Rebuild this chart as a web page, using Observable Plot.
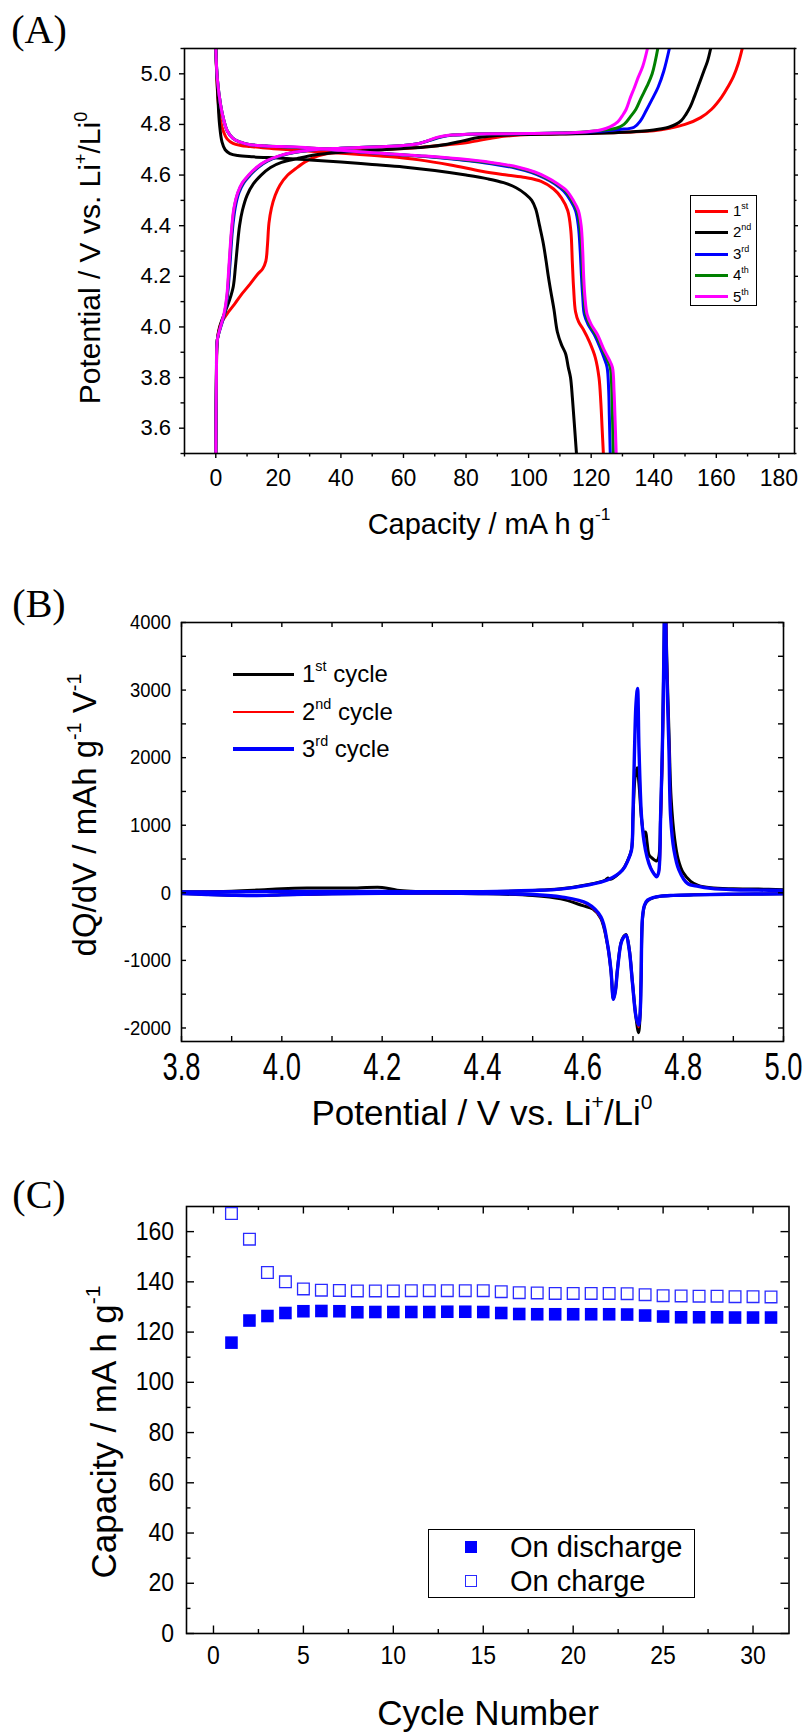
<!DOCTYPE html>
<html><head><meta charset="utf-8">
<script src="https://cdn.jsdelivr.net/npm/d3@7"></script>
<script src="https://cdn.jsdelivr.net/npm/@observablehq/plot@0.6"></script>
<style>
html,body{margin:0;padding:0;background:#fff;}
#page{position:relative;width:803px;height:1733px;overflow:hidden;font-family:"Liberation Sans",Arial,Helvetica,sans-serif;color:#000;}
.panel{position:absolute;left:0;}
.lbl{position:absolute;white-space:nowrap;line-height:1;}
.ctr{transform:translate(-50%,-50%);}
.rot{transform:translate(-50%,-50%) rotate(-90deg);}
.plabel{font-family:"Liberation Serif","Times New Roman",serif;font-size:40px;}
sup{font-size:0.6em;line-height:0;vertical-align:0.75em;}
.leg{position:absolute;box-sizing:border-box;border:1px solid #000;background:#fff;}
.swl{position:absolute;}
</style></head><body><div id="page"></div>
<script>
// ---------------- Panel A data: capacity (mA h/g) vs potential (V) ----------------
const c1ChargeCap = [0,0.2,0.5,1.5,3.5,6,8,11,13.5,15,16,16.5,17,17.8,19,20.5,23,25.5,29,33,39,47,57,66,74,81,87,92,97,105,115,125,133,140,145,150,155,158.5,161.7,163.8,165.5,167,168.3];
const c1ChargeV   = [3.5,3.8,3.95,4.01,4.05,4.09,4.125,4.17,4.21,4.23,4.26,4.32,4.41,4.47,4.52,4.56,4.60,4.625,4.655,4.677,4.69,4.697,4.703,4.71,4.72,4.73,4.743,4.753,4.758,4.762,4.764,4.767,4.77,4.775,4.785,4.80,4.827,4.86,4.908,4.95,4.99,5.04,5.1];
const c1DischCap  = [0,0.3,0.7,1.5,2.5,3.6,5.5,8,11,15,20,27,35,45,55,65,75,85,93,99,104,108,110.5,112.5,113.5,114,114.4,115,116,117.5,119.5,121.3,122.5,123.1,123.5,123.9];
const c1DischV    = [5.1,5.0,4.9,4.815,4.77,4.743,4.725,4.717,4.713,4.708,4.703,4.697,4.69,4.682,4.673,4.66,4.64,4.615,4.60,4.59,4.575,4.545,4.51,4.46,4.38,4.25,4.15,4.06,4.02,3.99,3.94,3.88,3.80,3.70,3.60,3.5];

const c2ChargeCap = [0,0.2,0.5,1.5,3,4.5,5.6,6.3,6.9,7.6,8.5,10,12,14.5,17.5,21,26,32,40,50,60,68,74,79,84,90,98,110,122,132,138,142,145,147,148.8,150.3,151.7,153,154.5,156,157.2,158.2];
const c2ChargeV   = [3.5,3.8,3.95,4.01,4.06,4.11,4.16,4.24,4.32,4.40,4.46,4.52,4.565,4.60,4.63,4.65,4.665,4.68,4.69,4.698,4.705,4.712,4.722,4.735,4.748,4.756,4.76,4.762,4.765,4.77,4.775,4.782,4.79,4.80,4.815,4.84,4.87,4.91,4.96,5.01,5.05,5.1];
const c2DischCap  = [0,0.3,0.7,1.2,2,3,4.5,7,12,20,30,40,50,60,70,80,87,92,96,99,101,102.3,103.5,104.7,105.6,106.3,107.1,108.1,109.2,110.5,111.8,112.7,113.4,114,114.6,115.3];
const c2DischV    = [5.1,5.0,4.9,4.8,4.73,4.70,4.685,4.677,4.672,4.667,4.66,4.652,4.642,4.632,4.618,4.60,4.585,4.57,4.55,4.525,4.50,4.465,4.40,4.33,4.26,4.20,4.14,4.07,3.98,3.93,3.895,3.84,3.80,3.72,3.62,3.5];

const c3ChargeCap = [0,0.2,0.5,1.6,2.8,3.7,4.5,5.3,6.2,7.4,9,11,13.5,16.5,20.5,25.5,31.5,40,52,60,65,68.5,72,76,81,90,100,110,118,124,129,133.7,135.8,137.6,139.5,141.4,143.2,145];
const c3ChargeV   = [3.5,3.8,3.95,4.0,4.05,4.12,4.24,4.38,4.47,4.53,4.57,4.60,4.63,4.655,4.675,4.69,4.70,4.706,4.712,4.717,4.725,4.737,4.75,4.758,4.761,4.763,4.764,4.766,4.769,4.774,4.78,4.789,4.815,4.855,4.90,4.947,5.01,5.1];
const c3DischCap  = [0,0.5,1.5,2.5,3.6,5.5,7.9,11,16,27,40,55,67,78,88,96,101,105,108.3,111.2,113.4,115,115.9,116.5,116.9,117.3,117.8,119,121,122.8,124.2,125.1,125.6,125.8,126.1];
const c3DischV    = [5.1,4.98,4.88,4.82,4.776,4.745,4.73,4.72,4.715,4.708,4.697,4.683,4.673,4.66,4.645,4.627,4.61,4.589,4.566,4.537,4.50,4.46,4.40,4.30,4.20,4.12,4.05,4.01,3.97,3.92,3.875,3.84,3.75,3.65,3.5];

const c4ChargeCap = [0,0.2,0.5,1.5,2.7,3.6,4.3,5.1,5.9,7.1,8.7,10.7,13.2,16.2,20.2,25.2,31.2,40,52,60,65,68.2,71.5,75.5,80.5,90,100,110,118,122,125.5,128,130.5,132.5,134.3,136,137.8,139.5,141.3];
const c4ChargeV   = [3.5,3.8,3.95,4.0,4.05,4.12,4.24,4.38,4.47,4.53,4.57,4.60,4.63,4.655,4.675,4.69,4.70,4.706,4.712,4.717,4.725,4.737,4.75,4.758,4.761,4.763,4.764,4.766,4.77,4.775,4.78,4.785,4.80,4.83,4.86,4.905,4.95,5.0,5.1];
const c4DischCap  = [0,0.5,1.5,2.5,3.6,5.5,7.9,11,16,27,40,55,67,78,88,96.5,101.6,105.4,108.7,111.7,113.9,115.5,116.4,117,117.3,117.7,118.3,119.5,121.5,123.5,125,126.1,126.6,126.8,127.1];
const c4DischV    = [5.1,4.98,4.88,4.82,4.776,4.745,4.73,4.72,4.715,4.709,4.698,4.684,4.674,4.662,4.648,4.629,4.611,4.59,4.567,4.538,4.50,4.46,4.40,4.30,4.20,4.12,4.05,4.01,3.97,3.915,3.875,3.84,3.75,3.65,3.5];

const c5ChargeCap = [0,0.2,0.5,1.5,2.6,3.5,4.2,5,5.8,7,8.5,10.5,13,16,20,25,31,40,52,60,65,68,71,75,80,90,100,110,118,123,126,128.5,130,131.2,132.5,133.8,135,136.5,138];
const c5ChargeV   = [3.5,3.8,3.95,4.0,4.05,4.12,4.24,4.38,4.47,4.53,4.57,4.60,4.63,4.655,4.675,4.69,4.70,4.706,4.712,4.717,4.725,4.737,4.75,4.758,4.761,4.763,4.764,4.766,4.77,4.778,4.79,4.81,4.835,4.86,4.905,4.945,4.985,5.03,5.1];
const c5DischCap  = [0,0.5,1.5,2.5,3.6,5.5,7.9,11,16,27,40,55,67,78,88,96.8,102,105.8,109,112.1,114.3,115.9,116.8,117.3,117.6,118,118.7,120,122,124.1,125.6,126.8,127.3,127.6,128];
const c5DischV    = [5.1,4.98,4.88,4.82,4.776,4.745,4.73,4.72,4.715,4.71,4.698,4.684,4.675,4.664,4.65,4.631,4.612,4.591,4.568,4.539,4.50,4.46,4.40,4.30,4.20,4.12,4.05,4.01,3.97,3.91,3.875,3.84,3.75,3.65,3.5];

const aCycles = ["1","2","3","4","5"];
const aSup = ["st","nd","rd","th","th"];
const aColors = ["#ff0000","#000000","#0000ff","#008000","#ff00ff"];
const aTicksX = [0,20,40,60,80,100,120,140,160,180];
const aTicksY = [3.6,3.8,4.0,4.2,4.4,4.6,4.8,5.0];

// ---------------- Panel B data: dQ/dV vs potential ----------------
const b1ChargeV  = [3.80,3.90,3.95,4.00,4.05,4.10,4.15,4.20,4.23,4.30,4.40,4.50,4.556,4.609,4.645,4.65,4.655,4.679,4.69,4.697,4.70,4.704,4.708,4.712,4.717,4.722,4.725,4.728,4.732,4.737,4.742,4.747,4.751,4.755,4.7585,4.7615,4.764,4.767,4.772,4.776,4.783,4.79,4.80,4.815,4.83,4.855,4.90,4.95,5.00];
const b1ChargeDQ = [15,25,40,60,70,70,72,80,40,15,15,35,60,120,190,220,200,340,490,640,1100,1700,1850,1600,1100,880,900,750,560,520,490,470,520,1124,2111,3500,4700,3600,2300,1400,800,500,300,170,110,75,60,55,45];
const b1DischV   = [3.80,3.85,3.90,3.95,4.00,4.10,4.20,4.30,4.40,4.50,4.556,4.60,4.62,4.636,4.649,4.656,4.661,4.665,4.669,4.676,4.681,4.686,4.6925,4.699,4.706,4.711,4.714,4.716,4.719,4.723,4.729,4.74,4.755,4.78,4.821,4.90,5.00];
const b1DischDQ  = [-10,-25,-35,-40,-30,-15,-8,-5,-12,-40,-90,-190,-240,-380,-760,-1150,-1570,-1440,-1130,-740,-650,-615,-830,-1330,-1850,-2070,-1850,-1300,-380,-190,-120,-75,-50,-38,-30,-20,-15];

const b2ChargeV  = [3.80,3.90,4.00,4.10,4.20,4.30,4.40,4.50,4.556,4.609,4.649,4.679,4.69,4.697,4.700,4.703,4.706,4.709,4.712,4.717,4.722,4.728,4.735,4.742,4.748,4.752,4.756,4.7595,4.7625,4.765,4.7675,4.7725,4.776,4.7825,4.7925,4.8084,4.83,4.855,4.90,4.95,5.00];
const b2ChargeDQ = [12,18,25,25,22,15,18,35,55,114,189,336,480,632,1150,2050,2750,2950,2150,1150,780,540,380,290,250,320,1124,2111,3500,4700,3500,2111,1124,632,336,150,100,68,48,42,38];
const b2DischV   = [3.80,3.85,3.90,3.95,4.00,4.10,4.20,4.30,4.40,4.50,4.556,4.609,4.636,4.649,4.656,4.661,4.665,4.669,4.676,4.681,4.686,4.6925,4.699,4.706,4.711,4.714,4.716,4.719,4.723,4.729,4.74,4.755,4.78,4.821,4.90,5.00];
const b2DischDQ  = [-10,-25,-35,-40,-30,-15,-8,-5,-10,-28,-65,-170,-380,-780,-1160,-1580,-1440,-1130,-740,-655,-620,-840,-1335,-1840,-1990,-1820,-1330,-360,-185,-110,-72,-50,-38,-30,-20,-15];

const b3ChargeV  = [3.80,3.90,4.00,4.10,4.20,4.30,4.40,4.50,4.556,4.609,4.649,4.679,4.69,4.697,4.700,4.703,4.706,4.709,4.712,4.717,4.722,4.728,4.735,4.742,4.747,4.751,4.755,4.7585,4.7615,4.764,4.7665,4.7717,4.775,4.7817,4.7917,4.8084,4.83,4.855,4.90,4.95,5.00];
const b3ChargeDQ = [12,15,20,22,20,15,18,35,55,114,189,336,480,632,1200,2111,2800,3024,2111,1124,760,530,370,280,237,300,1124,2111,3500,4700,3500,2111,1124,632,336,139,95,65,45,40,35];
const b3DischV   = [3.80,3.85,3.90,3.95,4.00,4.10,4.20,4.30,4.40,4.50,4.556,4.609,4.636,4.649,4.656,4.661,4.665,4.669,4.676,4.681,4.686,4.6925,4.699,4.706,4.711,4.714,4.716,4.719,4.723,4.729,4.74,4.755,4.78,4.821,4.90,5.00];
const b3DischDQ  = [-10,-25,-35,-40,-30,-15,-8,-5,-10,-25,-59,-157,-355,-750,-1143,-1577,-1450,-1143,-750,-660,-626,-847,-1340,-1834,-1957,-1800,-1340,-355,-180,-108,-70,-49,-38,-30,-20,-15];

const bNames = ["1","2","3"];
const bSup = ["st","nd","rd"];
const bColors = ["#000000","#ff0000","#0000ff"];
const bWidths = [3,2,3.4];
const bTicksX = [3.8,4.0,4.2,4.4,4.6,4.8,5.0];
const bTicksY = [-2000,-1000,0,1000,2000,3000,4000];

// ---------------- Panel C data: capacity vs cycle number ----------------
const cCycles    = [1,2,3,4,5,6,7,8,9,10,11,12,13,14,15,16,17,18,19,20,21,22,23,24,25,26,27,28,29,30,31];
const cDischarge = [115.8,124.6,126.4,127.6,128.3,128.4,128.3,127.9,128.0,128.0,128.0,128.0,128.1,128.1,128.0,127.6,127.2,127.1,127.1,127.1,127.1,127.1,127.0,126.6,126.2,125.9,125.9,125.9,125.8,125.8,125.8];
const cCharge    = [167.2,157.0,143.7,140.0,137.2,136.7,136.6,136.4,136.4,136.4,136.5,136.5,136.5,136.5,136.5,136.1,135.7,135.6,135.4,135.4,135.4,135.4,135.3,134.9,134.5,134.4,134.3,134.3,134.1,134.1,134.0];
const cTicksX = [0,5,10,15,20,25,30];
const cTicksY = [0,20,40,60,80,100,120,140,160];
const cLegend = ["On discharge","On charge"];

// ---------------- helpers ----------------
const FONT = '"Liberation Sans", Arial, Helvetica, sans-serif';
const page = document.getElementById("page");
function zip(xs, ys, extra){
  const n = Math.min(xs.length, ys.length);
  if (xs.length !== ys.length) console.warn("length mismatch", extra.key, xs.length, ys.length);
  return d3.range(n).map(i => ({x: xs[i], y: ys[i], ...extra}));
}
function place(svg, top){
  const d = document.createElement("div");
  d.className = "panel"; d.style.top = top + "px";
  d.appendChild(svg); page.appendChild(d);
}
function styleAxis(svg, which, size, sx){
  const g = svg.querySelector(`g[aria-label="${which}-axis tick label"]`);
  if (!g) return;
  g.style.fontSize = size + "px";
  g.style.fontFamily = FONT;
  g.setAttribute("fill", "#000");
  if (sx && sx !== 1) g.querySelectorAll("text").forEach(t => {
    t.setAttribute("transform", (t.getAttribute("transform") || "") + ` scale(${sx},1)`);
  });
}
function label(html, x, y, cls, extraStyle){
  const d = document.createElement("div");
  d.className = "lbl " + cls;
  d.style.left = x + "px"; d.style.top = y + "px";
  if (extraStyle) d.setAttribute("style", d.getAttribute("style") + ";" + extraStyle);
  d.innerHTML = html;
  page.appendChild(d);
  return d;
}
function ticksBottom(vals, H, len, out){ return Plot.tickX(vals, out ? {insetTop: H, insetBottom: -len, stroke:"#000", strokeWidth:1.4} : {insetTop: H - len, stroke:"#000", strokeWidth:1.4}); }
function ticksTop(vals, H, len, out){ return Plot.tickX(vals, out ? {insetBottom: H, insetTop: -len, stroke:"#000", strokeWidth:1.4} : {insetBottom: H - len, stroke:"#000", strokeWidth:1.4}); }
function ticksLeft(vals, W, len, out){ return Plot.tickY(vals, out ? {insetRight: W, insetLeft: -len, stroke:"#000", strokeWidth:1.4} : {insetRight: W - len, stroke:"#000", strokeWidth:1.4}); }
function ticksRight(vals, W, len, out){ return Plot.tickY(vals, out ? {insetLeft: W, insetRight: -len, stroke:"#000", strokeWidth:1.4} : {insetLeft: W - len, stroke:"#000", strokeWidth:1.4}); }
const notIn = (arr) => (v) => !arr.some(a => Math.abs(a - v) < 1e-9);

// ================= Panel A =================
{
  const W = 803, H = 500, mt = 48, mb = 47, ml = 184, mr = 9;
  const pw = W - ml - mr, ph = H - mt - mb;
  const curves = [
    [c1ChargeCap,c1ChargeV,c1DischCap,c1DischV],
    [c2ChargeCap,c2ChargeV,c2DischCap,c2DischV],
    [c3ChargeCap,c3ChargeV,c3DischCap,c3DischV],
    [c4ChargeCap,c4ChargeV,c4DischCap,c4DischV],
    [c5ChargeCap,c5ChargeV,c5DischCap,c5DischV]
  ];
  const rows = curves.flatMap((c, i) => [
    ...zip(c[0], c[1], {key: aCycles[i] + "c", color: aColors[i]}),
    ...zip(c[2], c[3], {key: aCycles[i] + "d", color: aColors[i]})
  ]);
  const minorY = d3.range(3.5, 5.1001, 0.1).map(v => +v.toFixed(2)).filter(notIn(aTicksY));
  const minorX = d3.range(-10, 185, 10).filter(notIn(aTicksX));
  const svg = Plot.plot({
    width: W, height: H, marginTop: mt, marginBottom: mb, marginLeft: ml, marginRight: mr,
    style: {fontFamily: FONT, background: "transparent", overflow: "visible", color: "#000"},
    x: {domain: [-10, 185]}, y: {domain: [3.5, 5.1]},
    color: {type: "identity"},
    marks: [
      Plot.line(rows, {x: "x", y: "y", z: "key", stroke: "color", strokeWidth: 3, curve: "catmull-rom", clip: true}),
      Plot.frame({stroke: "#000", strokeWidth: 1.6}),
      ticksLeft(aTicksY, pw, 5, true), ticksLeft(minorY, pw, 3.5, true),
      ticksRight(aTicksY, pw, 4, true), ticksRight(minorY, pw, 2.5, true),
      ticksBottom(aTicksX, ph, 5, true), ticksBottom(minorX, ph, 3.5, true),
      Plot.axisX({ticks: aTicksX, tickSize: 0, tickPadding: 16.5, tickFormat: d => d, label: null}),
      Plot.axisY({ticks: aTicksY, tickSize: 0, tickPadding: 13.5, tickFormat: d3.format(".1f"), label: null})
    ]
  });
  styleAxis(svg, "x", 23, 1);
  styleAxis(svg, "y", 22, 1);
  place(svg, 0);

  label("(A)", 39, 30, "ctr plabel");
  label("Capacity / mA h g<sup>-1</sup>", 489, 524, "ctr", "font-size:29px");
  label("Potential / V vs. Li<sup>+</sup>/Li<sup>0</sup>", 90, 258, "rot", "font-size:30px");

  const lg = document.createElement("div");
  lg.className = "leg";
  Object.assign(lg.style, {left: "690px", top: "195px", width: "67px", height: "111px"});
  page.appendChild(lg);
  const rowsY = [211, 232, 254, 275, 296.5];
  aCycles.forEach((c, i) => {
    const ln = document.createElement("div");
    ln.className = "swl";
    Object.assign(ln.style, {left: "695px", top: (rowsY[i] - 1.5) + "px", width: "33px", height: "3px", background: aColors[i]});
    page.appendChild(ln);
    label(`${c}<sup>${aSup[i]}</sup>`, 733, rowsY[i] - 8, "", "font-size:15px;line-height:16px");
  });
}

// ================= Panel B =================
{
  const W = 803, H = 520, mt = 52, mb = 49, ml = 181, mr = 20;
  const pw = W - ml - mr, ph = H - mt - mb;
  const sets = [
    [b1ChargeV,b1ChargeDQ,b1DischV,b1DischDQ],
    [b2ChargeV,b2ChargeDQ,b2DischV,b2DischDQ],
    [b3ChargeV,b3ChargeDQ,b3DischV,b3DischDQ]
  ];
  const marks = [];
  sets.forEach((s, i) => {
    const rows = [
      ...zip(s[0], s[1], {key: bNames[i] + "c"}),
      ...zip(s[2], s[3], {key: bNames[i] + "d"})
    ];
    marks.push(Plot.line(rows, {x: "x", y: "y", z: "key", stroke: bColors[i], strokeWidth: bWidths[i], curve: "catmull-rom", clip: true}));
  });
  const minorX = d3.range(3.8, 5.0001, 0.1).map(v => +v.toFixed(2)).filter(notIn(bTicksX));
  const minorY = d3.range(-2000, 4001, 500).filter(notIn(bTicksY));
  const svg = Plot.plot({
    width: W, height: H, marginTop: mt, marginBottom: mb, marginLeft: ml, marginRight: mr,
    style: {fontFamily: FONT, background: "transparent", overflow: "visible", color: "#000"},
    x: {domain: [3.8, 5.0]}, y: {domain: [-2200, 4000]},
    marks: [
      ...marks,
      Plot.frame({stroke: "#000", strokeWidth: 1.6}),
      ticksLeft(bTicksY, pw, 5, false), ticksLeft(minorY, pw, 5, false),
      ticksRight(bTicksY, pw, 5, false), ticksRight(minorY, pw, 5, false),
      ticksBottom(bTicksX, ph, 5, false), ticksBottom(minorX, ph, 5, false),
      ticksTop(bTicksX, ph, 5, false), ticksTop(minorX, ph, 5, false),
      Plot.axisX({ticks: bTicksX, tickSize: 0, tickPadding: 12, tickFormat: d3.format(".1f"), label: null}),
      Plot.axisY({ticks: bTicksY, tickSize: 0, tickPadding: 10.5, tickFormat: d => String(d), label: null})
    ]
  });
  styleAxis(svg, "x", 38, 0.72);
  styleAxis(svg, "y", 21, 0.88);
  place(svg, 570);

  label("(B)", 39, 604, "ctr plabel");
  label("Potential / V vs. Li<sup>+</sup>/Li<sup>0</sup>", 482, 1112, "ctr", "font-size:35px");
  label("dQ/dV / mAh g<sup>-1</sup> V<sup>-1</sup>", 84, 815, "rot", "font-size:33px");

  const rowsY = [674, 711.7, 749];
  bNames.forEach((c, i) => {
    const ln = document.createElement("div");
    ln.className = "swl";
    Object.assign(ln.style, {left: "233px", top: (rowsY[i] - bWidths[i] / 2) + "px", width: "61px", height: bWidths[i] + "px", background: bColors[i]});
    page.appendChild(ln);
    label(`${c}<sup>${bSup[i]}</sup> cycle`, 302, rowsY[i] - 12, "", "font-size:24px;line-height:24px");
  });
}

// ================= Panel C =================
{
  const W = 803, H = 593, mt = 66, mb = 100, ml = 186, mr = 14.5;
  const pw = W - ml - mr, ph = H - mt - mb;
  const dis = zip(cCycles, cDischarge, {s: cLegend[0]});
  const chg = zip(cCycles, cCharge, {s: cLegend[1]});
  const minorX = d3.range(0, 31, 2.5).filter(notIn(cTicksX));
  const minorY = d3.range(10, 170, 20);
  const svg = Plot.plot({
    width: W, height: H, marginTop: mt, marginBottom: mb, marginLeft: ml, marginRight: mr,
    style: {fontFamily: FONT, background: "transparent", overflow: "visible", color: "#000"},
    x: {domain: [-1.5, 32]}, y: {domain: [0, 170]},
    marks: [
      Plot.frame({stroke: "#000", strokeWidth: 1.6}),
      ticksLeft(cTicksY, pw, 8, false), ticksLeft(minorY, pw, 4.5, false),
      ticksRight(cTicksY, pw, 8, false), ticksRight(minorY, pw, 4.5, false),
      ticksBottom(cTicksX, ph, 7.5, false), ticksBottom(minorX, ph, 4, false),
      ticksTop(cTicksX, ph, 7.5, false), ticksTop(minorX, ph, 4, false),
      Plot.dot(chg, {x: "x", y: "y", symbol: "square", r: 6.6, fill: "#fff", stroke: "#2a2aff", strokeWidth: 1.3}),
      Plot.dot(dis, {x: "x", y: "y", symbol: "square", r: 7.1, fill: "#0000ff", stroke: "none"}),
      Plot.axisX({ticks: cTicksX, tickSize: 0, tickPadding: 13, tickFormat: d => d, label: null}),
      Plot.axisY({ticks: cTicksY, tickSize: 0, tickPadding: 12.5, tickFormat: d => d, label: null})
    ]
  });
  styleAxis(svg, "x", 25, 0.92);
  styleAxis(svg, "y", 25, 0.92);
  place(svg, 1140);

  label("(C)", 39, 1195, "ctr plabel");
  label("Cycle Number", 488, 1712, "ctr", "font-size:35px");
  label("Capacity / mA h g<sup>-1</sup>", 103, 1432, "rot", "font-size:35px");

  const lg = document.createElement("div");
  lg.className = "leg";
  Object.assign(lg.style, {left: "428px", top: "1529px", width: "267px", height: "69px"});
  page.appendChild(lg);
  const m1 = document.createElement("div");
  Object.assign(m1.style, {position: "absolute", left: (471 - 6.3) + "px", top: (1547 - 6.3) + "px", width: "12.6px", height: "12.6px", background: "#0000ff"});
  page.appendChild(m1);
  const m2 = document.createElement("div");
  Object.assign(m2.style, {position: "absolute", boxSizing: "border-box", left: (471 - 6.2) + "px", top: (1581 - 6.2) + "px", width: "12.4px", height: "12.4px", border: "1.3px solid #2a2aff", background: "#fff"});
  page.appendChild(m2);
  label(cLegend[0], 510, 1547, "", "font-size:29px;transform:translateY(-50%)");
  label(cLegend[1], 510, 1581, "", "font-size:29px;transform:translateY(-50%)");
}
</script></body></html>
